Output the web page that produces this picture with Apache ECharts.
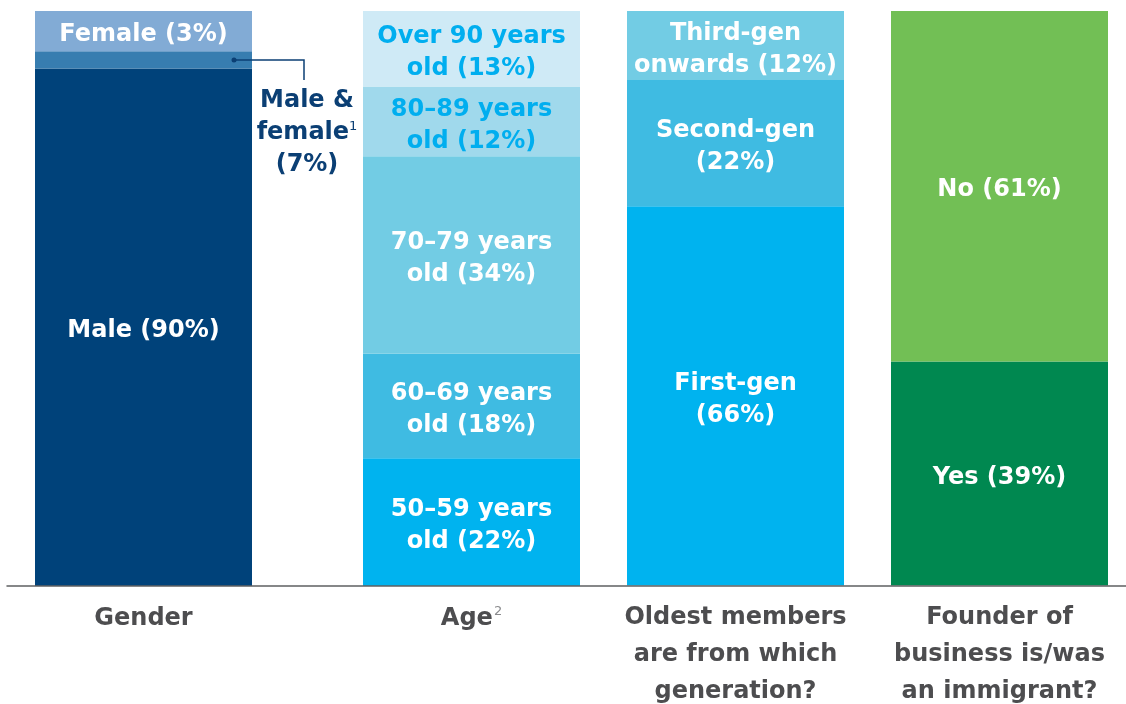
<!DOCTYPE html>
<html><head><meta charset="utf-8">
<script src="https://cdn.jsdelivr.net/npm/echarts@6/dist/echarts.min.js"></script>
<style>html,body{margin:0;padding:0;background:#fff}#c{width:1126px;height:704px}</style>
</head><body><div id="c"></div>
<script>
// ---- data ----
const categories = ['Gender', 'Age', 'Oldest members\nare from which\ngeneration?', 'Founder of\nbusiness is/was\nan immigrant?'];
// segments drawn bottom -> top (values as drawn in the picture)
const genderNames = ['Male (90%)', 'Male & female (7%)', 'Female (3%)'];
const genderValues = [90, 3, 7];
const ageNames = ['50–59 years\nold (22%)', '60–69 years\nold (18%)', '70–79 years\nold (34%)', '80–89 years\nold (12%)', 'Over 90 years\nold (13%)'];
const ageValues = [22, 18, 34, 12, 13];
const genNames = ['First-gen\n(66%)', 'Second-gen\n(22%)', 'Third-gen\nonwards (12%)'];
const genValues = [66, 22, 12];
const founderNames = ['Yes (39%)', 'No (61%)'];
const founderValues = [39, 61];

// ---- styles ----
const FONT = '"DejaVu Sans", sans-serif';
const barLefts = [35, 363, 627, 891];
const BAR_W = 217, TOP = 11, BOTTOM = 118;
const genderColors = ['#00427a', '#377db0', '#82abd5'];
const ageColors = ['#00b3ef', '#3fbbe2', '#72cce4', '#a0d9ec', '#cfeaf6'];
const genColors = ['#00b3ef', '#3fbbe2', '#72cce4'];
const founderColors = ['#008850', '#72bf55'];
const ageTextColors = ['#fff', '#fff', '#fff', '#00aeef', '#00aeef'];

const groups = [
  {names: genderNames, values: genderValues, colors: genderColors, text: ['#fff', null, '#fff']},
  {names: ageNames, values: ageValues, colors: ageColors, text: ageTextColors},
  {names: genNames, values: genValues, colors: genColors, text: ['#fff', '#fff', '#fff']},
  {names: founderNames, values: founderValues, colors: founderColors, text: ['#fff', '#fff']}
];

const grids = [{left: 7, right: 0, top: TOP, bottom: BOTTOM}];
const xAxes = [{gridIndex: 0, type: 'value', z: 10, axisLine: {show: true, onZero: false, lineStyle: {color: '#5f6062', width: 1.5}},
  axisTick: {show: false}, axisLabel: {show: false}, splitLine: {show: false}}];
const yAxes = [{gridIndex: 0, type: 'value', show: false}];
const series = [];

groups.forEach((g, gi) => {
  const idx = gi + 1;
  grids.push({left: barLefts[gi], width: BAR_W, top: TOP, bottom: BOTTOM});
  xAxes.push({
    gridIndex: idx, type: 'category', data: [categories[gi]],
    axisLine: {show: false}, axisTick: {show: false},
    axisLabel: {
      margin: 14, interval: 0,
      formatter: v => gi === 1 ? '{b|Age}{sup|2}' : v.split('\n').map(s => '{b|' + s + '}').join('\n'),
      rich: {
        b: {fontFamily: FONT, fontWeight: 'bold', fontSize: 24, color: '#4d4d4f', lineHeight: 37},
        sup: {fontFamily: FONT, fontSize: 13, color: '#8a8b8d', lineHeight: 37, padding: [0, 0, 14, 1]}
      }
    }
  });
  yAxes.push({gridIndex: idx, type: 'value', min: 0, max: 'dataMax', show: false});
  g.values.forEach((v, si) => {
    const isMF = gi === 0 && si === 1;
    series.push({
      type: 'bar', name: g.names[si], xAxisIndex: idx, yAxisIndex: idx, stack: 's' + gi,
      barWidth: '100%', data: [v], silent: true,
      itemStyle: {color: g.colors[si]},
      label: isMF ? {
        show: true, position: 'right', distance: 5, align: 'center', offset: [50, 73],
        formatter: '{n|Male &}\n{n|female}{sup|1}\n{n|(7%)}',
        rich: {
          n: {fontFamily: FONT, fontWeight: 'bold', fontSize: 24, color: '#0b3f74', lineHeight: 32},
          sup: {fontFamily: FONT, fontSize: 13, color: '#0b3f74', lineHeight: 32, padding: [0, 0, 12, 0]}
        }
      } : {
        show: true, position: 'inside', offset: [0, 4], formatter: g.names[si],
        fontFamily: FONT, fontWeight: 'bold', fontSize: 24, lineHeight: 32, color: g.text[si]
      }
    });
  });
});

const chart = echarts.init(document.getElementById('c'), null, {renderer: 'canvas'});
chart.setOption({animation: false, backgroundColor: '#fff', grid: grids, xAxis: xAxes, yAxis: yAxes, series: series});

// leader line for the "Male & female" annotation, anchored to its segment
const mid = chart.convertToPixel({xAxisIndex: 1, yAxisIndex: 1}, [0, genderValues[0] + genderValues[1] / 2]);
const right = barLefts[0] + BAR_W;
const dotX = right - 18, elbowX = right + 52;
chart.setOption({graphic: [
  {type: 'polyline', z: 20, shape: {points: [[dotX, mid[1]], [elbowX, mid[1]], [elbowX, mid[1] + 20]]},
   style: {stroke: '#0b3f74', lineWidth: 1.5, fill: null}},
  {type: 'circle', z: 21, shape: {cx: dotX, cy: mid[1], r: 2.5}, style: {fill: '#0b3f74'}}
]});
</script></body></html>
